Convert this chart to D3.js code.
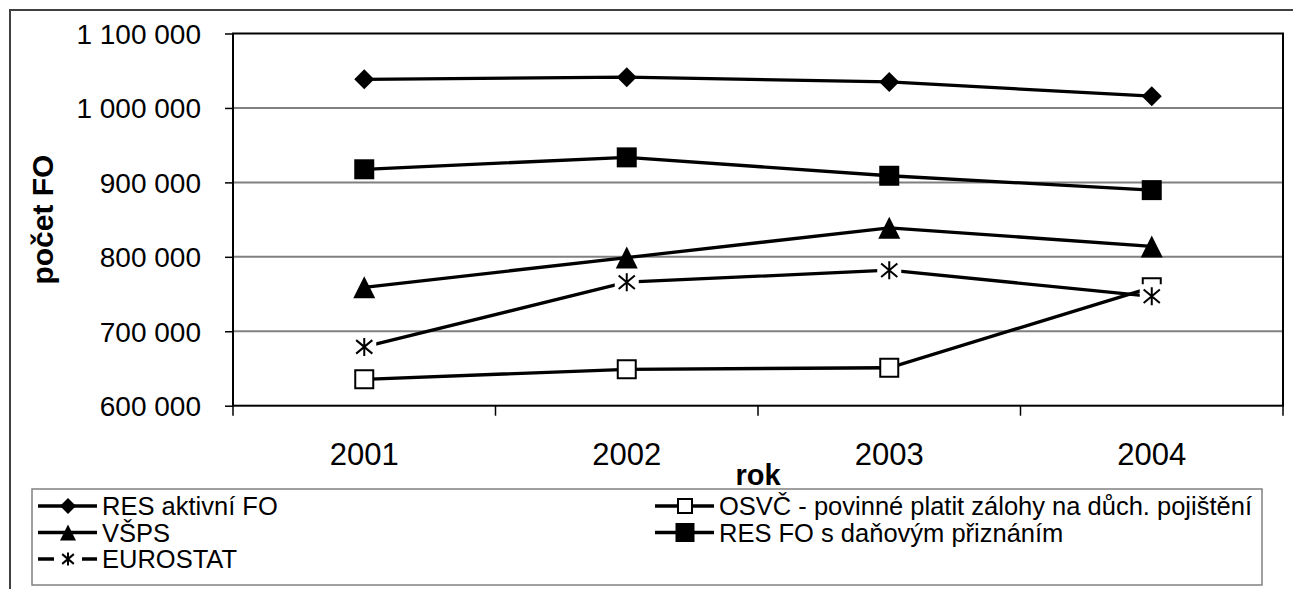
<!DOCTYPE html>
<html>
<head>
<meta charset="utf-8">
<title>Počet FO</title>
<style>
    body
    {
        margin: 0;
        background: #ffffff;
        font-family: "Liberation Sans", Arial, sans-serif;
    }

    svg text
    {
        fill: #000000;
    }
</style>
<script src="https://cdnjs.cloudflare.com/ajax/libs/d3/7.8.5/d3.min.js"></script>
</head>
<body>
<svg id="chart" width="1293" height="589"></svg>

<script>
// data
var years = ["2001", "2002", "2003", "2004"];
var resAktivni = [1038500, 1041300, 1035000, 1015800];
var osvc = [635500, 648900, 651000, 759000];
var vsps = [759000, 799000, 839000, 814000];
var resDanove = [917600, 933600, 908900, 889600];
var eurostat = [679000, 765900, 782000, 747000];
var yTicks = [600000, 700000, 800000, 900000, 1000000, 1100000];

var seriesNames = ["RES aktivní FO", "OSVČ - povinné platit zálohy na důch. pojištění", "VŠPS", "RES FO s daňovým přiznáním", "EUROSTAT"];
var seriesValues = [resAktivni, osvc, vsps, resDanove, eurostat];
var seriesMarkers = ["diamond", "openSquare", "triangle", "square", "star"];

var plot = {left: 233, right: 1283, top: 33.5, bottom: 405.7};

var svg = d3.select("#chart");

var x = d3.scaleBand()
    .domain(years)
    .range([plot.left, plot.right])
    .padding(0);

var y = d3.scaleLinear()
    .domain([600000, 1100000])
    .range([plot.bottom, plot.top]);

var fmt = d3.formatLocale({decimal: ",", thousands: " ", grouping: [3], currency: ["", ""]}).format(",d");

function cx(year)
{
    return x(year) + x.bandwidth() / 2;
}

// marker shapes, s = full size
function markerPath(type, s)
{
    var h = s / 2;
    if (type == "diamond")
        return "M0," + (-h) + "L" + h + ",0L0," + h + "L" + (-h) + ",0Z";
    if (type == "triangle")
        return "M0," + (-h) + "L" + h + "," + h + "L" + (-h) + "," + h + "Z";
    if (type == "star")
        return "M0," + (-h) + "V" + h +
               "M" + (-h * 0.9) + "," + (-h * 0.75) + "L" + (h * 0.9) + "," + (h * 0.75) +
               "M" + (-h * 0.9) + "," + (h * 0.75) + "L" + (h * 0.9) + "," + (-h * 0.75);
    return "M" + (-h) + "," + (-h) + "H" + h + "V" + h + "H" + (-h) + "Z";
}

function drawMarker(g, type, s, bg)
{
    if (type == "star")
    {
        g.append("rect")
            .attr("x", -bg)
            .attr("y", -bg)
            .attr("width", bg * 2)
            .attr("height", bg * 2)
            .attr("fill", "#ffffff");
        g.append("path")
            .attr("d", markerPath(type, s))
            .attr("fill", "none")
            .attr("stroke", "#000000")
            .attr("stroke-width", 2);
    }
    else if (type == "openSquare")
    {
        g.append("path")
            .attr("d", markerPath(type, s - 2))
            .attr("fill", "#ffffff")
            .attr("stroke", "#000000")
            .attr("stroke-width", 2);
    }
    else
    {
        g.append("path")
            .attr("d", markerPath(type, s))
            .attr("fill", "#000000");
    }
}

// outer chart frame
svg.append("rect")
    .attr("x", 10)
    .attr("y", 10)
    .attr("width", 1320)
    .attr("height", 620)
    .attr("fill", "none")
    .attr("stroke", "#404040")
    .attr("stroke-width", 2);

// gridlines
svg.append("g")
    .selectAll("line")
    .data(yTicks.slice(1, -1))
    .enter()
    .append("line")
    .attr("x1", plot.left)
    .attr("x2", plot.right)
    .attr("y1", function(d) { return y(d); })
    .attr("y2", function(d) { return y(d); })
    .attr("stroke", "#808080")
    .attr("stroke-width", 2);

// y axis
var yAxis = svg.append("g")
    .attr("transform", "translate(" + plot.left + ",0)")
    .call(d3.axisLeft(y).tickValues(yTicks).tickSize(8).tickPadding(24).tickFormat(fmt));

yAxis.select(".domain").remove();
yAxis.selectAll("line").attr("stroke", "#000000").attr("stroke-width", 1.5);
yAxis.selectAll("text")
    .attr("dy", null)
    .attr("y", 10)
    .style("font-family", "'Liberation Sans', Arial, sans-serif")
    .style("font-size", "28px");

// x axis: labels in band centres, ticks on band edges
var xAxis = svg.append("g")
    .attr("transform", "translate(0," + plot.bottom + ")")
    .call(d3.axisBottom(x).tickSize(0));

xAxis.select(".domain").remove();
xAxis.selectAll("text")
    .attr("dy", null)
    .attr("y", 59)
    .style("font-family", "'Liberation Sans', Arial, sans-serif")
    .style("font-size", "31px");

svg.append("g")
    .selectAll("line")
    .data(years.map(function(d) { return x(d); }).concat([x.range()[1]]))
    .enter()
    .append("line")
    .attr("x1", function(d) { return d; })
    .attr("x2", function(d) { return d; })
    .attr("y1", plot.bottom)
    .attr("y2", plot.bottom + 10)
    .attr("stroke", "#000000")
    .attr("stroke-width", 1.5);

// plot border
svg.append("rect")
    .attr("x", plot.left)
    .attr("y", plot.top)
    .attr("width", plot.right - plot.left)
    .attr("height", plot.bottom - plot.top)
    .attr("fill", "none")
    .attr("stroke", "#000000")
    .attr("stroke-width", 2);

// axis titles
svg.append("text")
    .attr("transform", "translate(53," + ((plot.top + plot.bottom) / 2) + ") rotate(-90)")
    .attr("text-anchor", "middle")
    .style("font-size", "30px")
    .style("font-weight", "bold")
    .text("počet FO");

svg.append("text")
    .attr("x", (plot.left + plot.right) / 2)
    .attr("y", 485)
    .attr("text-anchor", "middle")
    .style("font-size", "29px")
    .style("font-weight", "bold")
    .text("rok");

// series
var line = d3.line()
    .x(function(d, i) { return cx(years[i]); })
    .y(function(d) { return y(d); });

for (var k = 0; k < seriesValues.length; k++)
{
    var sg = svg.append("g");

    sg.append("path")
        .datum(seriesValues[k])
        .attr("d", line)
        .attr("fill", "none")
        .attr("stroke", "#000000")
        .attr("stroke-width", 3.3);

    for (var i = 0; i < years.length; i++)
    {
        var mg = sg.append("g")
            .attr("transform", "translate(" + cx(years[i]) + "," + y(seriesValues[k][i]) + ")");
        var size = seriesMarkers[k] == "star" ? 18 : (seriesMarkers[k] == "triangle" ? 22 : 20);
        drawMarker(mg, seriesMarkers[k], size, 12);
    }
}

// legend
svg.append("rect")
    .attr("x", 32)
    .attr("y", 489)
    .attr("width", 1262 - 32)
    .attr("height", 585 - 489)
    .attr("fill", "none")
    .attr("stroke", "#808080")
    .attr("stroke-width", 1.5);

var legendCols = [38, 655];
var legendRows = [506, 532.5, 559];

var legend = svg.append("g")
    .selectAll("g")
    .data(seriesNames)
    .enter()
    .append("g")
    .attr("transform", function(d, i)
    {
        return "translate(" + legendCols[i % 2] + "," + legendRows[Math.floor(i / 2)] + ")";
    });

legend.append("line")
    .attr("x1", 0)
    .attr("x2", 59)
    .attr("y1", 0)
    .attr("y2", 0)
    .attr("stroke", "#000000")
    .attr("stroke-width", 3.3);

legend.each(function(d, i)
{
    var mg = d3.select(this).append("g").attr("transform", "translate(30,0)");
    var size = seriesMarkers[i] == "square" ? 19 : (seriesMarkers[i] == "star" ? 13 : 16);
    drawMarker(mg, seriesMarkers[i], size, 14);
});

legend.append("text")
    .attr("x", 64)
    .attr("y", 9)
    .style("font-size", "25.5px")
    .text(function(d) { return d; });
</script>
</body>
</html>
